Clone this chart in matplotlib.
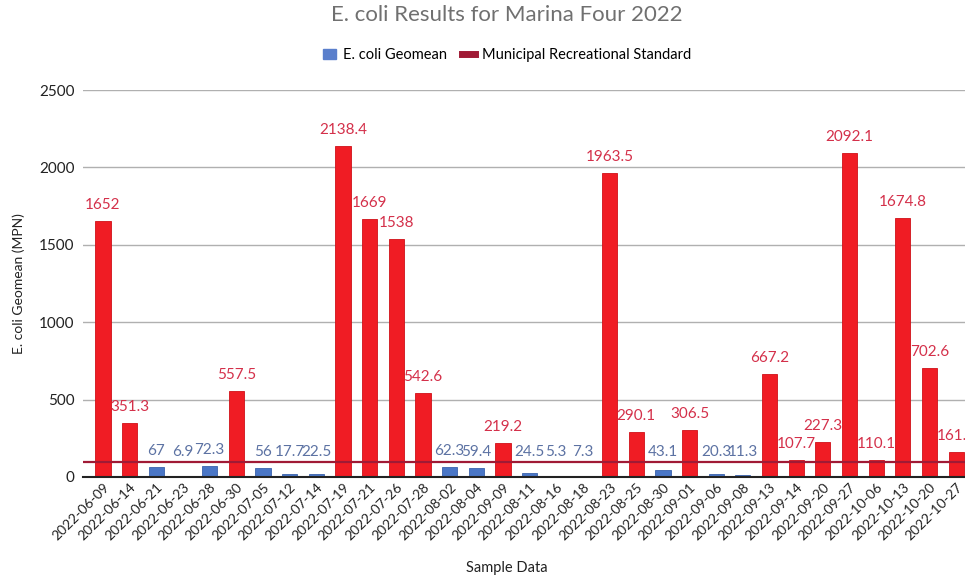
import matplotlib.pyplot as plt
from matplotlib.patches import Patch
from matplotlib.lines import Line2D

plt.rcParams['font.family'] = ['Lato', 'DejaVu Sans']

dates = ['2022-06-09', '2022-06-14', '2022-06-21', '2022-06-23', '2022-06-28',
         '2022-06-30', '2022-07-05', '2022-07-12', '2022-07-14', '2022-07-19',
         '2022-07-21', '2022-07-26', '2022-07-28', '2022-08-02', '2022-08-04',
         '2022-09-09', '2022-08-11', '2022-08-16', '2022-08-18', '2022-08-23',
         '2022-08-25', '2022-08-30', '2022-09-01', '2022-09-06', '2022-09-08',
         '2022-09-13', '2022-09-14', '2022-09-20', '2022-09-27', '2022-10-06',
         '2022-10-13', '2022-10-20', '2022-10-27']
geomean = [1652, 351.3, 67, 6.9, 72.3,
           557.5, 56, 17.7, 22.5, 2138.4,
           1669, 1538, 542.6, 62.3, 59.4,
           219.2, 24.5, 5.3, 7.3, 1963.5,
           290.1, 43.1, 306.5, 20.3, 11.3,
           667.2, 107.7, 227.3, 2092.1, 110.1,
           1674.8, 702.6, 161.5]
standard = 100

RED = '#f01c24'
BLUE = '#4a76c6'
RED_TXT = '#d4304a'
BLUE_TXT = '#5c72a3'
STD = '#a01a35'

fig = plt.figure(figsize=(9.65, 5.8), dpi=100)
ax = fig.add_axes([83/965, 1-477/580, 1-83/965, (477-90)/580])

x = range(len(dates))
cols = [RED if v > standard else BLUE for v in geomean]
edges = ['#d01018' if v > standard else '#3a62ac' for v in geomean]
ax.bar(x, geomean, width=0.57, color=cols, edgecolor=edges, linewidth=0.6, zorder=3)

for i, v in enumerate(geomean):
    tc = RED_TXT if v > standard else BLUE_TXT
    ax.annotate(('%g' % v), (i, max(v, 60)), xytext=(0, 11.5),
                textcoords='offset points', ha='center', va='center',
                fontsize=11, color=tc, zorder=5)

ax.axhline(standard, color=STD, lw=1.6, zorder=4)

ax.set_ylim(0, 2500)
ax.set_xlim(-0.75, 32.33)
ax.set_yticks([0, 500, 1000, 1500, 2000, 2500])
ax.yaxis.grid(True, color='#b0b0b0', lw=1, zorder=0)
ax.set_axisbelow(True)
for s in ['top', 'right', 'left']:
    ax.spines[s].set_visible(False)
ax.spines['bottom'].set_color('#222222')
ax.spines['bottom'].set_linewidth(1.5)
ax.spines['bottom'].set_zorder(6)
ax.tick_params(axis='y', length=0, labelsize=11, pad=6, labelcolor='#222222')
ax.tick_params(axis='x', length=0, labelsize=10, pad=3, labelcolor='#222222')
ax.set_xticks(list(x))
ax.set_xticklabels(dates, rotation=45, ha='right', rotation_mode='anchor')

ax.set_ylabel('E. coli Geomean (MPN)', fontsize=10, color='#222222', labelpad=10)
fig.text(507/965, 1-568/580, 'Sample Data', ha='center', va='center',
         fontsize=10.5, color='#222222')
fig.text(507/965, 1-15/580, 'E. coli Results for Marina Four 2022', ha='center',
         va='center', fontsize=16, color='#707070')

handles = [Patch(facecolor='#5a7fcc', edgecolor='#5a7fcc'),
           Line2D([0], [0], color=STD, lw=5)]
fig.legend(handles, ['E. coli Geomean', 'Municipal Recreational Standard'],
           loc='center', bbox_to_anchor=(507/965, 1-55/580), ncol=2, frameon=False,
           fontsize=10.5, handlelength=0.9, handletextpad=0.5, columnspacing=1.0)

fig.savefig('out.png', dpi=100)
